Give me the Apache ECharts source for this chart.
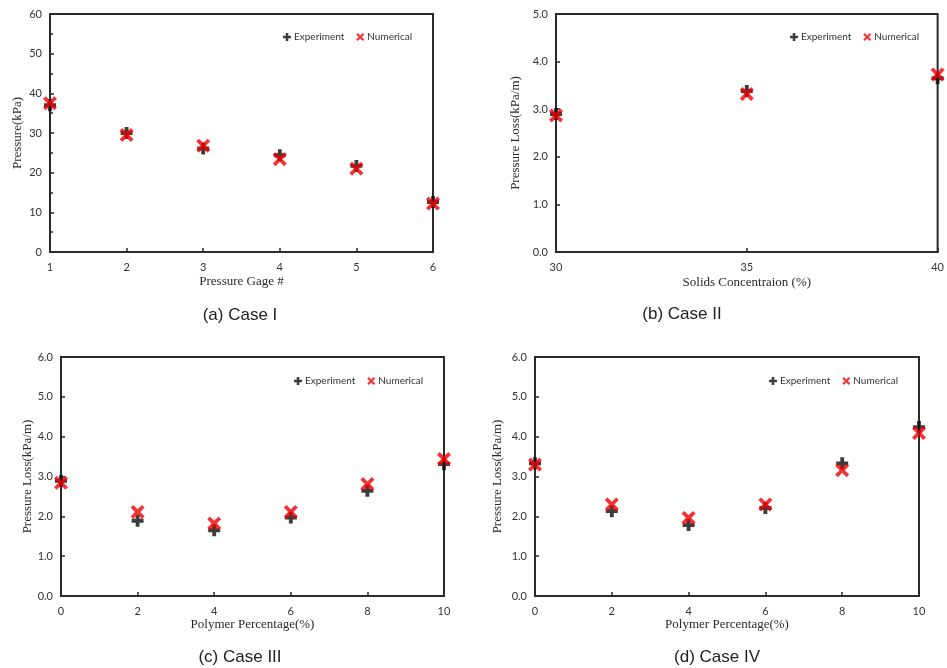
<!DOCTYPE html>
<html>
<head>
<meta charset="utf-8">
<script src="https://cdn.jsdelivr.net/npm/echarts@6/dist/echarts.min.js"></script>
<style>
  html, body { margin: 0; padding: 0; background: #fff; }
  #chart { width: 947px; height: 668px; }
</style>
</head>
<body>
<div id="chart"></div>
<script>
// Case I: pressure along the gauges
const gaugeNumbers = [1, 2, 3, 4, 5, 6];
const caseIExperiment = [37.0, 30.0, 26.1, 24.4, 21.7, 12.6];
const caseINumerical = [37.5, 29.5, 26.8, 23.4, 21.0, 12.2];

// Case II: pressure loss vs solids concentration
const solidsConcentration = [30, 35, 40];
const caseIIExperiment = [2.90, 3.38, 3.65];
const caseIINumerical = [2.87, 3.32, 3.73];

// Case III and IV: pressure loss vs polymer percentage
const polymerPercentage = [0, 2, 4, 6, 8, 10];
const caseIIIExperiment = [2.89, 1.89, 1.65, 1.97, 2.64, 3.31];
const caseIIINumerical = [2.84, 2.11, 1.82, 2.11, 2.81, 3.44];
const caseIVExperiment = [3.33, 2.13, 1.78, 2.21, 3.33, 4.24];
const caseIVNumerical = [3.30, 2.30, 1.96, 2.30, 3.16, 4.09];

const panelTitles = ['(a) Case I', '(b) Case II', '(c) Case III', '(d) Case IV'];
const xNames = ['Pressure Gage #', 'Solids Concentraion (%)', 'Polymer Percentage(%)', 'Polymer Percentage(%)'];
const yNames = ['Pressure(kPa)', 'Pressure Loss(kPa/m)', 'Pressure Loss(kPa/m)', 'Pressure Loss(kPa/m)'];

const PLUS = 'path://M3.4,0H6.6V3.4H10V6.6H6.6V10H3.4V6.6H0V3.4H3.4Z';
const CROSS = 'path://M0,1.9L1.9,0L5,3.1L8.1,0L10,1.9L6.9,5L10,8.1L8.1,10L5,6.9L1.9,10L0,8.1L3.1,5Z';
const BLACK = '#0d0d0d';
const RED = '#f00000';

const tickFont = { fontFamily: 'Lato, "Open Sans", sans-serif', fontSize: 11, color: '#333' };
const nameFont = { fontFamily: '"Liberation Serif", "DejaVu Serif", serif', fontSize: 13, color: '#2a2a2a' };

const panels = [
  { grid: { left: 50, top: 14, width: 383, height: 238 },
    x: { min: 1, max: 6, interval: 1, fmt: v => String(v) },
    y: { min: 0, max: 60, interval: 10, fmt: v => String(v), minor: true },
    xs: gaugeNumbers, exp: caseIExperiment, num: caseINumerical,
    xGap: 23, yGap: 26, title: [235, 302], legend: [278, 27] },
  { grid: { left: 556, top: 14, width: 384, height: 238 },
    x: { min: 30, max: 40, interval: 5, fmt: v => String(v) },
    y: { min: 0, max: 5, interval: 1, fmt: v => v.toFixed(1) },
    xs: solidsConcentration, exp: caseIIExperiment, num: caseIINumerical,
    xGap: 24, yGap: 34, title: [677, 301], legend: [785, 27] },
  { grid: { left: 61, top: 357, width: 383, height: 239 },
    x: { min: 0, max: 10, interval: 2, fmt: v => String(v) },
    y: { min: 0, max: 6, interval: 1, fmt: v => v.toFixed(1) },
    xs: polymerPercentage, exp: caseIIIExperiment, num: caseIIINumerical,
    xGap: 20, yGap: 27, title: [235, 644], legend: [289, 371] },
  { grid: { left: 535, top: 357, width: 384, height: 239 },
    x: { min: 0, max: 10, interval: 2, fmt: v => String(v) },
    y: { min: 0, max: 6, interval: 1, fmt: v => v.toFixed(1) },
    xs: polymerPercentage, exp: caseIVExperiment, num: caseIVNumerical,
    xGap: 22, yGap: 31, title: [712, 644], legend: [764, 371] }
];

const axisLine = { show: true, lineStyle: { color: '#2a2a2a', width: 2 } };

const option = {
  backgroundColor: '#fff',
  animation: false,
  title: panels.map((p, i) => ({
    text: panelTitles[i], left: p.title[0], top: p.title[1], textAlign: 'center',
    textStyle: { fontFamily: '"Liberation Sans", Arial, sans-serif', fontSize: 17, fontWeight: 'normal', color: '#222' }
  })),
  legend: panels.map((p, i) => ({
    left: p.legend[0], top: p.legend[1], orient: 'horizontal',
    itemWidth: 8, itemHeight: 8, itemGap: 12,
    data: [{ name: 'Experiment', icon: PLUS, itemStyle: { color: BLACK } },
           { name: 'Numerical', icon: CROSS, itemStyle: { color: RED } }],
    textStyle: { fontFamily: 'Lato, "Open Sans", sans-serif', fontSize: 10, color: '#333', padding: [0, 0, 0, -2] }
  })),
  grid: panels.map(p => Object.assign({ show: true, borderColor: '#2a2a2a', borderWidth: 2, backgroundColor: '#fff' }, p.grid)),
  xAxis: panels.map((p, i) => ({
    type: 'value', gridIndex: i, min: p.x.min, max: p.x.max, interval: p.x.interval,
    name: xNames[i], nameLocation: 'middle', nameGap: p.xGap, nameTextStyle: nameFont,
    axisLine: axisLine,
    axisTick: { show: true, inside: true, length: 4, lineStyle: { color: '#2a2a2a', width: 1.5 } },
    axisLabel: Object.assign({ margin: 10, formatter: p.x.fmt }, tickFont),
    splitLine: { show: false }
  })),
  yAxis: panels.map((p, i) => ({
    type: 'value', gridIndex: i, min: p.y.min, max: p.y.max, interval: p.y.interval,
    name: yNames[i], nameLocation: 'middle', nameGap: p.yGap, nameTextStyle: nameFont,
    axisLine: axisLine,
    axisTick: { show: true, inside: true, length: 4, lineStyle: { color: '#2a2a2a', width: 1.5 } },
    minorTick: { show: !!p.y.minor, splitNumber: 2, length: 3, lineStyle: { color: '#2a2a2a', width: 1.5 } },
    axisLabel: Object.assign({ margin: 8, formatter: p.y.fmt }, tickFont),
    splitLine: { show: false }
  })),
  series: panels.flatMap((p, i) => [
    { name: 'Experiment', type: 'scatter', xAxisIndex: i, yAxisIndex: i, clip: false,
      symbol: PLUS, symbolSize: 12, itemStyle: { color: BLACK },
      data: p.xs.map((x, k) => [x, p.exp[k]]) },
    { name: 'Numerical', type: 'scatter', xAxisIndex: i, yAxisIndex: i, clip: false,
      symbol: CROSS, symbolSize: 14, itemStyle: { color: RED },
      data: p.xs.map((x, k) => [x, p.num[k]]) }
  ])
};

const chart = echarts.init(document.getElementById('chart'), null, { renderer: 'canvas' });
chart.setOption(option);
</script>
</body>
</html>
